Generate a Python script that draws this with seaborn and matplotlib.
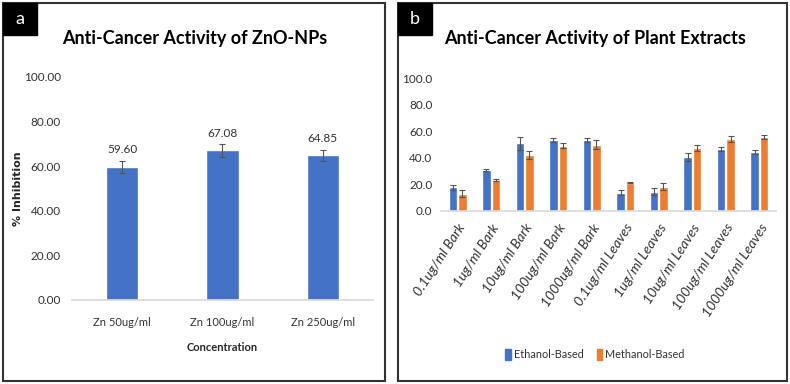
import matplotlib
matplotlib.use('Agg')
import matplotlib.pyplot as plt
from matplotlib.patches import Rectangle, Patch
import seaborn as sns
import pandas as pd

# panel a: ZnO nanoparticles
zn_conc   = ['Zn 50ug/ml', 'Zn 100ug/ml', 'Zn 250ug/ml']
zn_inhib  = [59.60, 67.08, 64.85]
zn_err    = [2.8, 2.8, 2.5]

# panel b: plant extracts
extract_conc = ['0.1ug/ml Bark', '1ug/ml Bark', '10ug/ml Bark', '100ug/ml Bark', '1000ug/ml Bark',
                '0.1ug/ml Leaves', '1ug/ml Leaves', '10ug/ml Leaves', '100ug/ml Leaves', '1000ug/ml Leaves']
ethanol     = [17.6, 30.7, 50.9, 53.4, 53.4, 13.6, 14.4, 40.3, 46.6, 44.1]
ethanol_err = [2.0, 1.0, 4.8, 1.5, 1.5, 2.0, 2.5, 3.0, 1.5, 1.5]
methanol     = [12.8, 23.2, 42.1, 49.1, 49.9, 21.2, 18.1, 47.4, 54.2, 55.7]
methanol_err = [2.5, 1.0, 3.0, 2.0, 3.5, 0.5, 2.5, 2.0, 2.5, 1.5]
solvents = ['Ethanol-Based', 'Methanol-Based']

BLUE   = '#4472C4'
ORANGE = '#ED7D31'
ERRCOL = '#555555'

sns.set_theme(style='white')
plt.rcParams['font.family'] = ['Lato', 'DejaVu Sans']

fig = plt.figure(figsize=(7.9, 3.84), dpi=100)

# ---------------- panel a ----------------
ax1 = fig.add_axes([0.0911, 0.2188, 0.381, 0.5807])
df_a = pd.DataFrame({'conc': zn_conc, 'inhib': zn_inhib})
sns.barplot(data=df_a, x='conc', y='inhib', color=BLUE, saturation=1, width=0.32,
            errorbar=None, ax=ax1)
for bar, v, e in zip(ax1.containers[0], zn_inhib, zn_err):
    cx = bar.get_x() + bar.get_width() / 2
    ax1.errorbar(cx, v, yerr=e, color=ERRCOL, capsize=2.5, lw=0.8, capthick=0.8)
    ax1.text(cx, v + e + 2.5, f'{v:.2f}', ha='center', va='bottom', fontsize=8.5, color='#333333')
ax1.set_ylim(0, 100)
ax1.set_yticks(range(0, 101, 20))
ax1.set_yticklabels([f'{t:.2f}' for t in range(0, 101, 20)])
ax1.set_xlim(-0.5, 2.5)
ax1.set_xlabel('Concentration', fontsize=8, fontweight='bold')
ax1.xaxis.set_label_coords(0.5, -0.19)
ax1.set_ylabel('% Inhibition', fontsize=8, fontweight='bold', family=['DejaVu Sans'])
ax1.yaxis.set_label_coords(-0.163, 0.5)
ax1.tick_params(axis='both', colors='#333333', length=0)
ax1.tick_params(axis='x', pad=12, labelsize=8)
ax1.tick_params(axis='y', pad=8, labelsize=8.5)
for s in ['top', 'right', 'left']:
    ax1.spines[s].set_visible(False)
ax1.spines['bottom'].set_color('#d9d9d9')

# ---------------- panel b ----------------
ax2 = fig.add_axes([0.558, 0.4513, 0.4245, 0.3448])
df_b = pd.DataFrame({
    'conc': extract_conc * 2,
    'value': ethanol + methanol,
    'solvent': [solvents[0]] * len(extract_conc) + [solvents[1]] * len(extract_conc),
})
sns.barplot(data=df_b, x='conc', y='value', hue='solvent', palette=[BLUE, ORANGE],
            saturation=1, width=0.56, gap=0.1, errorbar=None, ax=ax2, legend=False)
for cont, vals, errs in zip(ax2.containers, [ethanol, methanol], [ethanol_err, methanol_err]):
    for bar, v, e in zip(cont, vals, errs):
        ax2.errorbar(bar.get_x() + bar.get_width() / 2, v, yerr=e, color=ERRCOL,
                     capsize=2, lw=0.8, capthick=0.8)
ax2.set_ylim(0, 100)
ax2.set_yticks(range(0, 101, 20))
ax2.set_yticklabels([f'{t:.1f}' for t in range(0, 101, 20)])
ax2.set_xlim(-0.5, 9.5)
ax2.set_xlabel('')
ax2.set_ylabel('')
ax2.tick_params(axis='both', labelsize=8.5, colors='#333333', length=0)
ax2.tick_params(axis='y', pad=6)
ax2.tick_params(axis='x', pad=8)
plt.setp(ax2.get_xticklabels(), rotation=57, ha='right', rotation_mode='anchor',
         fontstyle='italic', fontsize=10)
for s in ['top', 'right', 'left']:
    ax2.spines[s].set_visible(False)
ax2.spines['bottom'].set_color('#d9d9d9')
handles = [Patch(color=BLUE, label=solvents[0]), Patch(color=ORANGE, label=solvents[1])]
fig.legend(handles=handles, loc='center', bbox_to_anchor=(0.753, 0.076), ncol=2,
           frameon=False, fontsize=7.8, handlelength=0.5, handleheight=1.2,
           handletextpad=0.3, columnspacing=1.2, labelcolor='#333333')

# titles
fig.text(0.247, 0.9, 'Anti-Cancer Activity of ZnO-NPs', ha='center', va='center',
         fontsize=13, fontweight='bold', color='black')
fig.text(0.753, 0.9, 'Anti-Cancer Activity of Plant Extracts', ha='center', va='center',
         fontsize=13, fontweight='bold', color='black')

# panel frames and letter tags
W, H = 790, 384
for x0, x1 in [(3, 385), (398, 787)]:
    fig.patches.append(Rectangle((x0 / W, 3 / H), (x1 - x0) / W, (381 - 3) / H,
                                 transform=fig.transFigure, fill=False,
                                 edgecolor='#333333', lw=1.5))
for x0, letter in [(3, 'a'), (398, 'b')]:
    fig.patches.append(Rectangle((x0 / W, 1 - 35 / H), 34 / W, 32 / H,
                                 transform=fig.transFigure, facecolor='black',
                                 edgecolor='black'))
    fig.text((x0 + 17) / W, 1 - 19 / H, letter, ha='center', va='center',
             color='white', fontsize=13)

fig.savefig('out.png', dpi=100)
